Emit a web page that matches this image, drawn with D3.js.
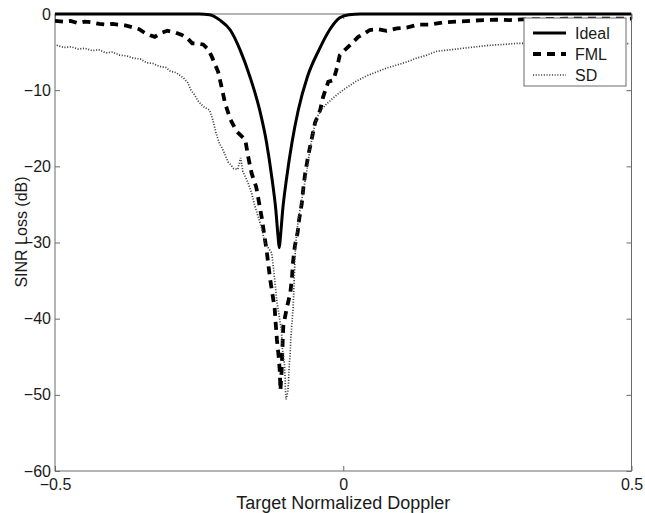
<!DOCTYPE html>
<html>
<head>
<meta charset="utf-8">
<script src="https://cdn.jsdelivr.net/npm/d3@7"></script>
<style>
  html, body { margin: 0; padding: 0; background: #fff; }
  svg { display: block; font-family: "Liberation Sans", Arial, Helvetica, sans-serif; }
</style>
</head>
<body>
<svg id="chart" width="645" height="513"></svg>
<script>
// ---- data ----
const xTicks = [-0.5, 0, 0.5];
const xTickLabels = ["\u22120.5", "0", "0.5"];
const yTicks = [-60, -50, -40, -30, -20, -10, 0];
const yTickLabels = ["\u221260", "\u221250", "\u221240", "\u221230", "\u221220", "\u221210", "0"];
const seriesNames = ["Ideal", "FML", "SD"];

const idealData = [
  [-0.5, 0], [-0.25, 0], [-0.232, -0.1], [-0.214, -0.8], [-0.196, -2.1], [-0.179, -4.7],
  [-0.162, -8.2], [-0.145, -12.6], [-0.133, -16.9], [-0.124, -21.4], [-0.117, -25.7],
  [-0.113, -29.3], [-0.111, -30.7], [-0.109, -29.3], [-0.105, -25.7], [-0.098, -21.4],
  [-0.089, -16.9], [-0.078, -12.6], [-0.062, -8.2], [-0.042, -4.7], [-0.023, -2.0],
  [-0.006, -0.5], [0.01, -0.1], [0.03, 0], [0.5, 0]
];

const fmlData = [
  [-0.5, -0.9], [-0.486, -1.0], [-0.473, -0.9], [-0.46, -1.2], [-0.448, -1.0], [-0.436, -1.1],
  [-0.423, -1.3], [-0.41, -1.4], [-0.4, -1.3], [-0.391, -1.4], [-0.378, -1.5], [-0.365, -1.75],
  [-0.354, -2.0], [-0.344, -2.5], [-0.335, -2.8], [-0.327, -3.0], [-0.316, -2.5], [-0.305, -2.2],
  [-0.292, -2.4], [-0.28, -2.75], [-0.27, -3.2], [-0.262, -3.85], [-0.252, -3.9], [-0.243, -4.0],
  [-0.235, -4.6], [-0.228, -5.6], [-0.217, -7.6], [-0.211, -9.6], [-0.205, -11.7],
  [-0.196, -13.8], [-0.185, -15.4], [-0.17, -16.5], [-0.165, -18.7], [-0.159, -20.9],
  [-0.151, -22.7], [-0.146, -24.8], [-0.141, -26.9], [-0.137, -29.0], [-0.133, -31.0],
  [-0.127, -34.7], [-0.123, -36.7], [-0.119, -38.6], [-0.117, -40.8], [-0.115, -42.8],
  [-0.112, -45.0], [-0.11, -47.0], [-0.109, -49.4], [-0.107, -47.0], [-0.106, -45.0],
  [-0.105, -42.8], [-0.104, -41.0], [-0.098, -38.6], [-0.092, -36.7], [-0.089, -34.7],
  [-0.087, -32.5], [-0.084, -30.5], [-0.079, -28.6], [-0.077, -27.2], [-0.072, -24.9],
  [-0.069, -22.7], [-0.066, -20.9], [-0.061, -18.7], [-0.055, -16.5], [-0.049, -14.3],
  [-0.04, -12.6], [-0.035, -10.9], [-0.026, -8.9], [-0.017, -8.7], [-0.011, -7.1],
  [-0.006, -5.4], [0.003, -4.7], [0.015, -3.85], [0.026, -3.0], [0.038, -2.5], [0.046, -2.1],
  [0.061, -2.0], [0.075, -2.2], [0.093, -1.9], [0.11, -1.8], [0.13, -1.4], [0.15, -1.4],
  [0.174, -1.1], [0.197, -1.0], [0.22, -0.9], [0.243, -0.8], [0.266, -0.75], [0.289, -0.8],
  [0.312, -0.7], [0.35, -0.65], [0.41, -0.6], [0.5, -0.6]
];

const sdData = [
  [-0.497, -4.1], [-0.485, -4.4], [-0.472, -4.3], [-0.46, -4.6], [-0.448, -4.5], [-0.436, -4.8],
  [-0.424, -4.7], [-0.412, -5.1], [-0.4, -5.0], [-0.388, -5.4], [-0.376, -5.5], [-0.364, -5.8],
  [-0.352, -5.9], [-0.341, -6.4], [-0.33, -6.5], [-0.318, -6.9], [-0.308, -7.0], [-0.3, -7.5],
  [-0.29, -7.7], [-0.277, -8.4], [-0.27, -9.0], [-0.264, -10.0], [-0.258, -10.6], [-0.252, -11.4],
  [-0.246, -11.9], [-0.24, -12.3], [-0.232, -12.6], [-0.227, -13.7], [-0.221, -15.5],
  [-0.215, -17.0], [-0.21, -17.6], [-0.206, -18.3], [-0.2, -19.4], [-0.195, -19.8],
  [-0.19, -20.3], [-0.183, -20.4], [-0.178, -18.9], [-0.174, -20.7], [-0.169, -21.5],
  [-0.165, -22.2], [-0.159, -23.5], [-0.154, -25.0], [-0.148, -26.5], [-0.141, -28.3],
  [-0.136, -30.0], [-0.124, -31.4], [-0.121, -33.4], [-0.118, -35.6], [-0.115, -37.8],
  [-0.111, -39.7], [-0.107, -41.7], [-0.106, -43.7], [-0.102, -45.9], [-0.101, -47.6],
  [-0.1, -49.8], [-0.099, -50.6], [-0.096, -49.5], [-0.095, -48.5], [-0.094, -46.5],
  [-0.092, -44.5], [-0.091, -42.6], [-0.089, -40.6], [-0.087, -38.6], [-0.086, -36.7],
  [-0.085, -34.7], [-0.084, -32.7], [-0.083, -31.0], [-0.081, -29.0], [-0.078, -27.0],
  [-0.075, -25.7], [-0.069, -23.1], [-0.063, -20.5], [-0.058, -17.9], [-0.052, -15.4],
  [-0.046, -13.6], [-0.037, -12.5], [-0.029, -11.8], [-0.017, -11.0], [-0.006, -10.3],
  [0.009, -9.5], [0.023, -8.8], [0.041, -8.1], [0.058, -7.6], [0.075, -7.1], [0.093, -6.7],
  [0.11, -6.3], [0.127, -5.8], [0.145, -5.4], [0.162, -4.9], [0.185, -4.7], [0.208, -4.5],
  [0.231, -4.3], [0.255, -4.1], [0.278, -4.0], [0.301, -3.85], [0.341, -3.9], [0.38, -3.7],
  [0.411, -3.8], [0.44, -3.9], [0.463, -3.9], [0.497, -3.9]
];

// ---- layout ----
const plotLeft = 55, plotRight = 631.5, plotTop = 14, plotBottom = 471;
const svg = d3.select("#chart");

const x = d3.scaleLinear().domain([-0.5, 0.5]).range([plotLeft, plotRight]);
const y = d3.scaleLinear().domain([-60, 0]).range([plotBottom, plotTop]);

const axisColor = "#6a6a6a";
const textColor = "#1a1a1a";
const fontSize = 16;

// frame
svg.append("rect")
  .attr("x", plotLeft).attr("y", plotTop)
  .attr("width", plotRight - plotLeft).attr("height", plotBottom - plotTop)
  .attr("fill", "none").attr("stroke", axisColor).attr("stroke-width", 1);

function styleAxis(g) {
  g.select(".domain").remove();
  g.selectAll(".tick line").attr("stroke", axisColor);
  g.selectAll(".tick text").attr("fill", textColor).style("font-size", fontSize + "px");
}

// bottom axis
svg.append("g").attr("transform", `translate(0,${plotBottom})`)
  .call(d3.axisBottom(x).tickValues(xTicks).tickSize(-5).tickPadding(8)
    .tickFormat((d, i) => xTickLabels[i]))
  .call(styleAxis);
// top axis (ticks only)
svg.append("g").attr("transform", `translate(0,${plotTop})`)
  .call(d3.axisTop(x).tickValues(xTicks).tickSize(-5).tickFormat(""))
  .call(styleAxis);
// left axis
svg.append("g").attr("transform", `translate(${plotLeft},0)`)
  .call(d3.axisLeft(y).tickValues(yTicks).tickSize(-5).tickPadding(4)
    .tickFormat((d, i) => yTickLabels[i]))
  .call(styleAxis);
// right axis (ticks only)
svg.append("g").attr("transform", `translate(${plotRight},0)`)
  .call(d3.axisRight(y).tickValues(yTicks).tickSize(-5).tickFormat(""))
  .call(styleAxis);

// axis titles
svg.append("text")
  .attr("x", (plotLeft + plotRight) / 2).attr("y", 509)
  .attr("text-anchor", "middle").attr("fill", textColor)
  .style("font-size", "18px")
  .text("Target Normalized Doppler");

svg.append("text")
  .attr("transform", "translate(27,232) rotate(-90)")
  .attr("text-anchor", "middle").attr("fill", textColor)
  .style("font-size", "16px")
  .text("SINR Loss (dB)");

// lines
svg.append("clipPath").attr("id", "plotclip")
  .append("rect").attr("x", plotLeft).attr("y", plotTop - 3)
  .attr("width", plotRight - plotLeft).attr("height", plotBottom - plotTop + 3);

const lineLin = d3.line().x(d => x(d[0])).y(d => y(d[1]));
const lineSmooth = d3.line().x(d => x(d[0])).y(d => y(d[1])).curve(d3.curveMonotoneX);

const styles = {
  Ideal: { stroke: "#000", width: 3, dash: null },
  FML: { stroke: "#000", width: 3.8, dash: "8,6" },
  SD: { stroke: "#404040", width: 1.7, dash: "1.1,1.6" }
};

const plot = svg.append("g").attr("clip-path", "url(#plotclip)");
plot.append("path").datum(idealData).attr("d", lineSmooth)
  .attr("fill", "none").attr("stroke", styles.Ideal.stroke).attr("stroke-width", styles.Ideal.width);
plot.append("path").datum(fmlData).attr("d", lineLin)
  .attr("fill", "none").attr("stroke", styles.FML.stroke).attr("stroke-width", styles.FML.width)
  .attr("stroke-dasharray", styles.FML.dash);
plot.append("path").datum(sdData).attr("d", lineLin)
  .attr("fill", "none").attr("stroke", styles.SD.stroke).attr("stroke-width", styles.SD.width)
  .attr("stroke-dasharray", styles.SD.dash);

// legend
const lg = svg.append("g").attr("transform", "translate(524,18)");
lg.append("rect").attr("x", 0).attr("y", 0).attr("width", 102).attr("height", 68)
  .attr("fill", "#fff").attr("stroke", axisColor).attr("stroke-width", 1);
seriesNames.forEach((name, i) => {
  const yy = 15 + i * 21;
  const s = styles[name];
  lg.append("line").attr("x1", 9).attr("x2", 42).attr("y1", yy).attr("y2", yy)
    .attr("stroke", s.stroke).attr("stroke-width", s.width)
    .attr("stroke-dasharray", s.dash);
  lg.append("text").attr("x", 51).attr("y", yy).attr("dy", "0.36em")
    .attr("fill", textColor).style("font-size", "16px").text(name);
});
</script>
</body>
</html>
